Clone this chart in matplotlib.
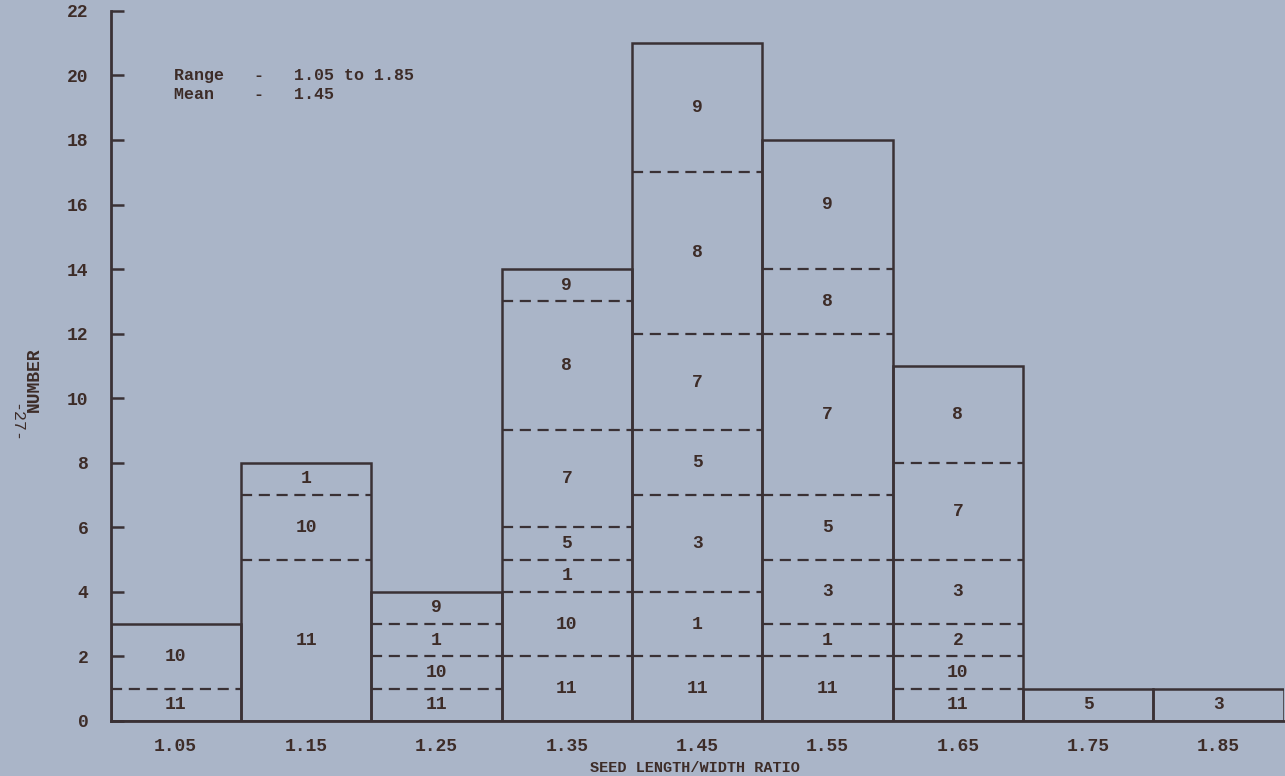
import matplotlib.pyplot as plt

# seed length/width ratio classes and the stacked counts inside each class
bin_centers = [1.05, 1.15, 1.25, 1.35, 1.45, 1.55, 1.65, 1.75, 1.85]
tick_labels = ["1.05", "1.15", "1.25", "1.35", "1.45", "1.55", "1.65", "1.75", "1.85"]
segment_labels = [
    [11, 10],
    [11, 10, 1],
    [11, 10, 1, 9],
    [11, 10, 1, 5, 7, 8, 9],
    [11, 1, 3, 5, 7, 8, 9],
    [11, 1, 3, 5, 7, 8, 9],
    [11, 10, 2, 3, 7, 8],
    [5],
    [3],
]
segment_counts = [
    [1, 2],
    [5, 2, 1],
    [1, 1, 1, 1],
    [2, 2, 1, 1, 3, 4, 1],
    [2, 2, 3, 2, 3, 5, 4],
    [2, 1, 2, 2, 5, 2, 4],
    [1, 1, 1, 2, 3, 3],
    [1],
    [1],
]
y_ticks = [0, 2, 4, 6, 8, 10, 12, 14, 16, 18, 20, 22]

paper = "#aab5c8"
ink = "#3a3135"
text_ink = "#3d2c28"
font = "Liberation Mono"
bin_width = 0.1

fig = plt.figure(figsize=(12.85, 7.76), dpi=100, facecolor=paper)
ax = fig.add_axes([0.086, 0.071, 0.913, 0.915])
ax.set_facecolor(paper)

for x, labels, counts in zip(bin_centers, segment_labels, segment_counts):
    total = sum(counts)
    ax.bar(x, total, width=bin_width, fill=False, edgecolor=ink, linewidth=1.8)
    bottom = 0
    for i, (lab, n) in enumerate(zip(labels, counts)):
        if i > 0:
            ax.plot([x - bin_width / 2, x + bin_width / 2], [bottom, bottom],
                    color=ink, linewidth=1.6, linestyle=(0, (5, 3)))
        ax.text(x, bottom + n / 2, str(lab), ha="center", va="center",
                fontsize=13, fontweight="bold", family=font, color=text_ink)
        bottom += n

ax.set_xlim(1.0, 1.9)
ax.set_ylim(0, 22)
ax.set_xticks(bin_centers)
ax.set_xticklabels(tick_labels)
ax.set_yticks(y_ticks)
ax.tick_params(axis="x", length=0, pad=12, colors=text_ink)
ax.tick_params(axis="y", direction="in", length=9, width=1.8, pad=16, colors=text_ink)
ax.tick_params(axis="y", color=ink)
for lab in ax.get_xticklabels() + ax.get_yticklabels():
    lab.set_fontfamily(font)
    lab.set_fontweight("bold")
    lab.set_fontsize(13)

for side in ["top", "right"]:
    ax.spines[side].set_visible(False)
for side in ["left", "bottom"]:
    ax.spines[side].set_color(ink)
    ax.spines[side].set_linewidth(2)

ax.text(1.049, 19.7, "Range   -   1.05 to 1.85\nMean    -   1.45", ha="left", va="center",
        fontsize=12, fontweight="bold", family=font, color=text_ink, linespacing=1.4)

fig.text(0.541, 0.0103, "SEED LENGTH/WIDTH RATIO", ha="center", va="center",
         fontsize=11, fontweight="bold", family=font, color=text_ink)
fig.text(0.027, 0.51, "NUMBER", ha="center", va="center", rotation=90,
         fontsize=13, fontweight="bold", family=font, color=text_ink)
fig.text(0.012, 0.455, "-27-", ha="center", va="center", rotation=-90,
         fontsize=12, family=font, color=text_ink)

plt.savefig("out.png", dpi=100, facecolor=paper)
